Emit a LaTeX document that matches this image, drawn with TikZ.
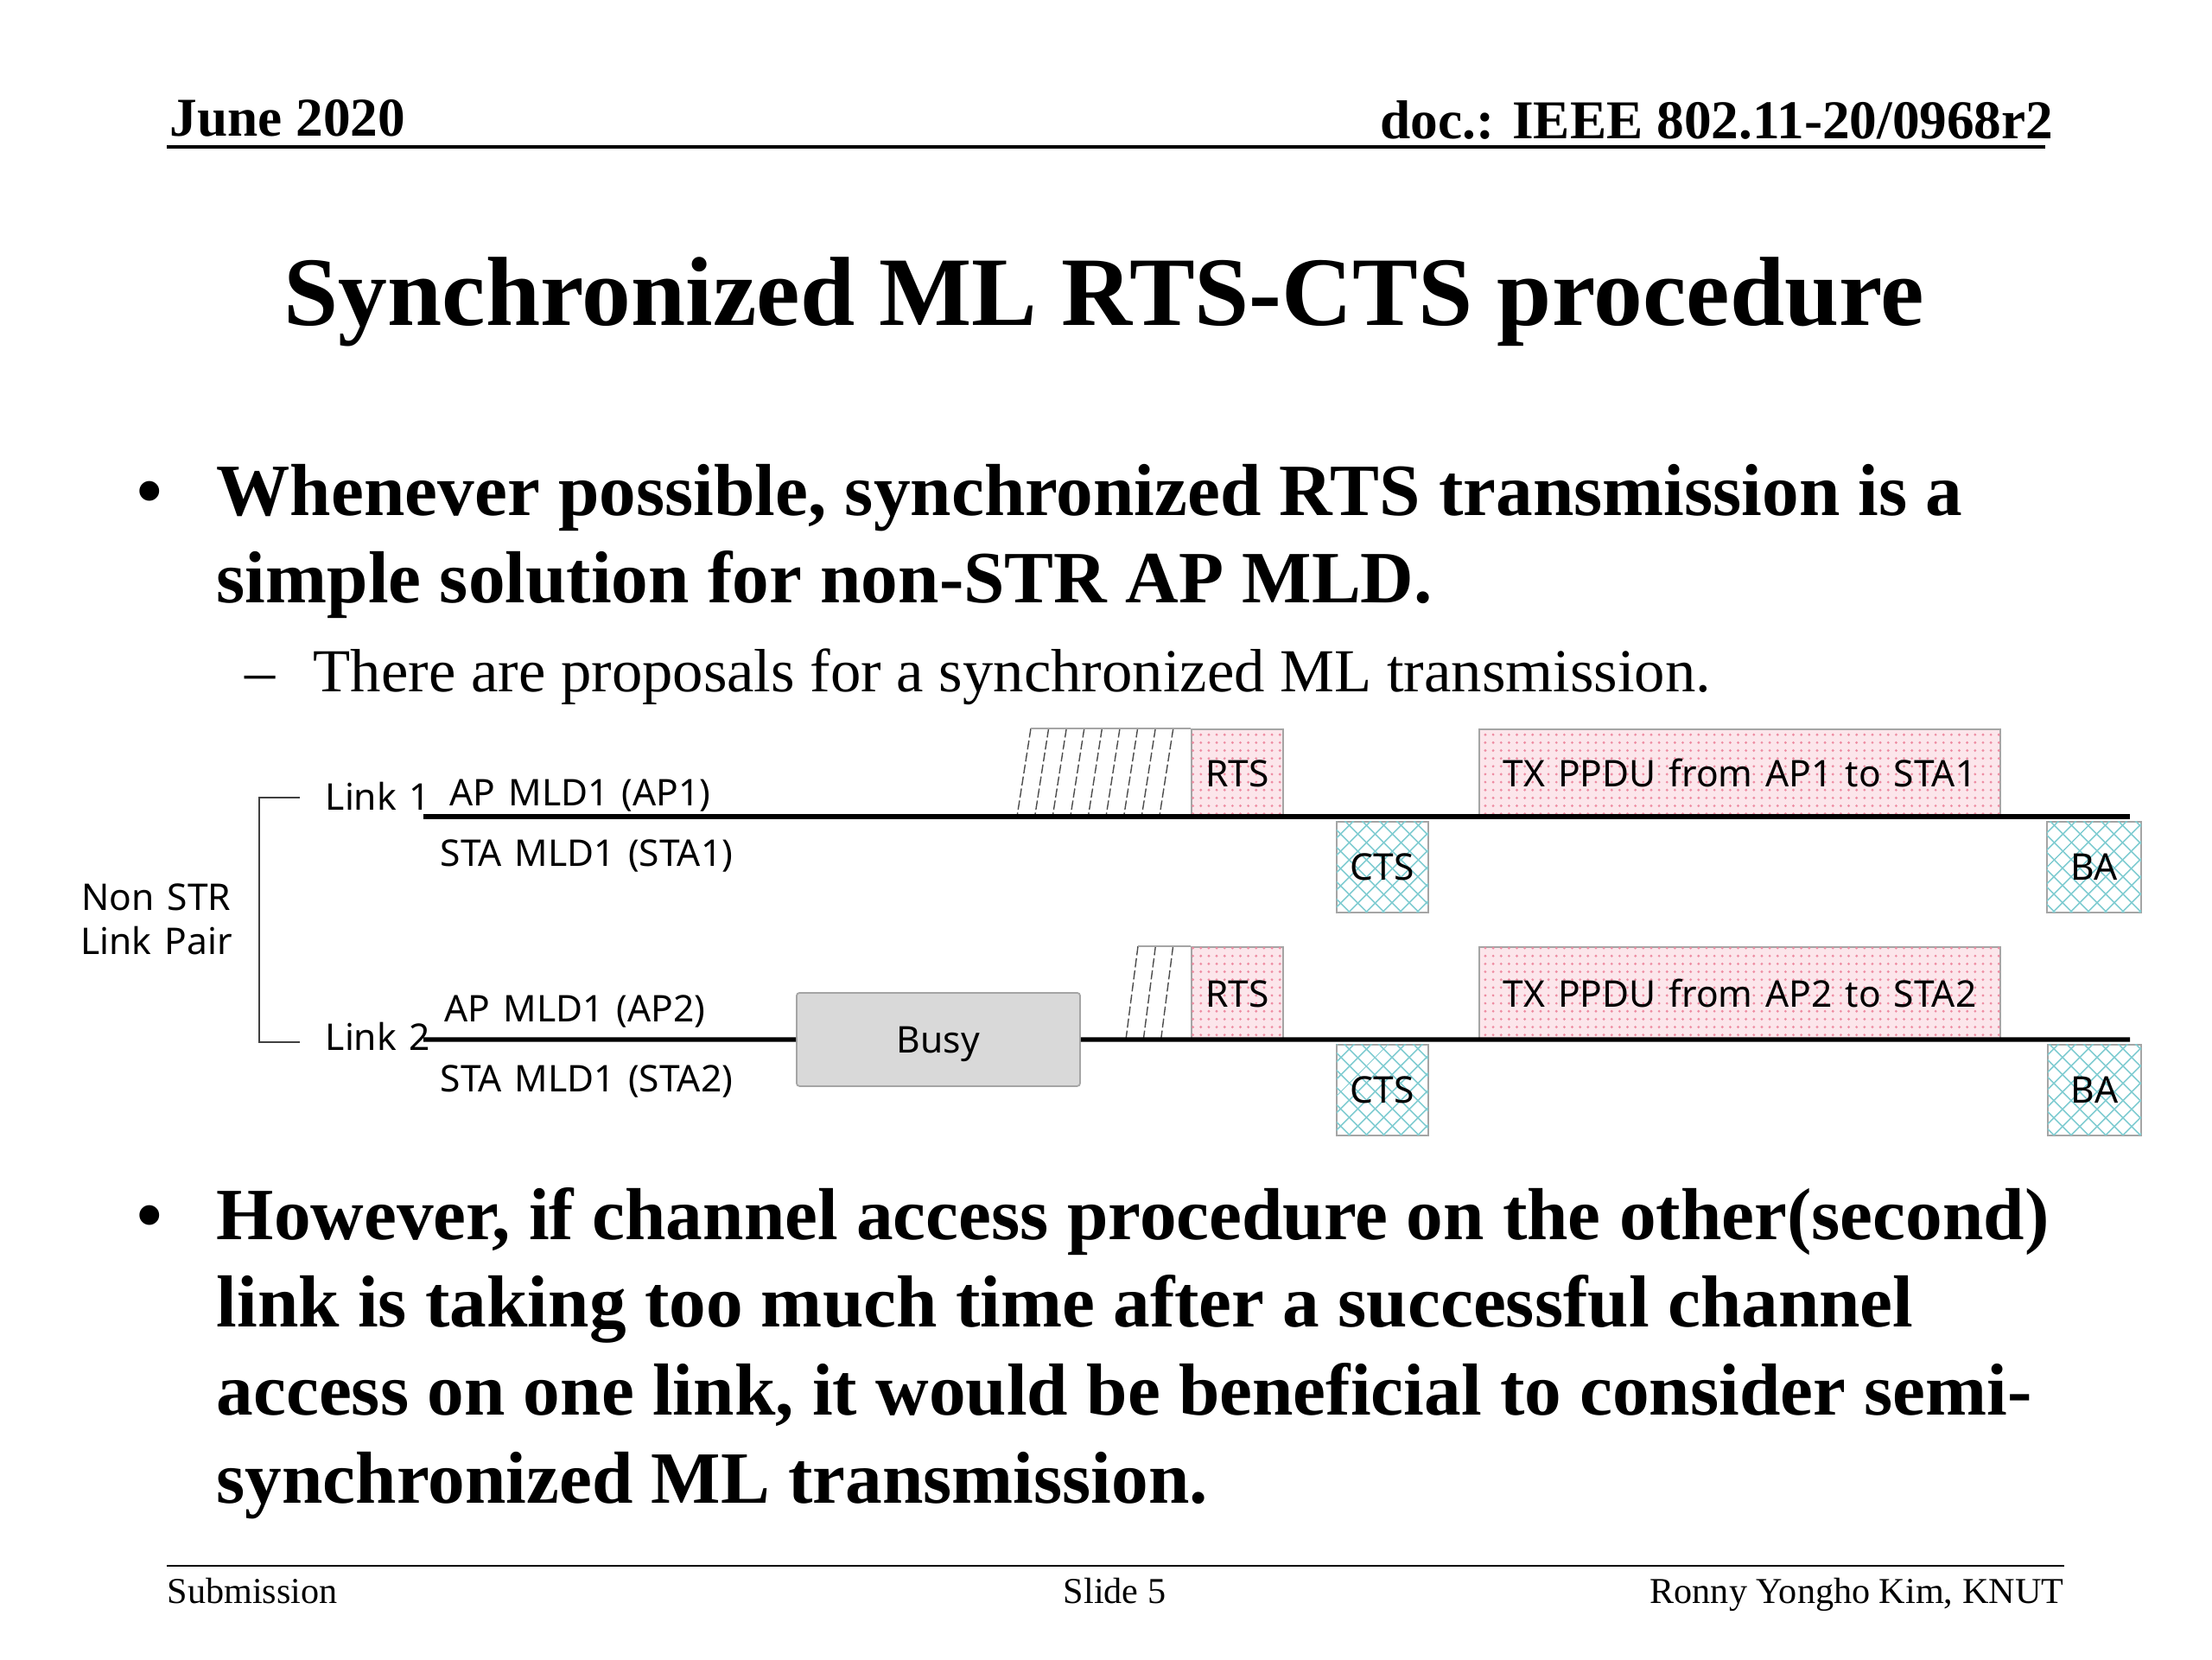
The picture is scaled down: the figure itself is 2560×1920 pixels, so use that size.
\documentclass[tikz,border=0pt]{standalone}
\usepackage{fontspec}
\setmainfont{Liberation Serif}
\newfontfamily\diagfont[WordSpace=1.35]{Noto Sans}
\usetikzlibrary{patterns.meta}
\definecolor{rtspink}{RGB}{252,230,235}
\definecolor{dotpink}{RGB}{238,140,162}
\definecolor{ctscyan}{RGB}{130,205,210}
\definecolor{boxgray}{RGB}{165,165,165}
\definecolor{busygray}{RGB}{217,217,217}
\begin{document}
\begin{tikzpicture}[x=0.01cm,y=-0.01cm,
  lbl/.style={font=\diagfont\fontsize{12.1}{14}\selectfont,inner sep=0pt},
  frame/.style={draw=boxgray,line width=0.5pt},
  slot/.style={frame,lbl,anchor=north west,minimum height=1.02cm},
  pinkbox/.style={slot,fill=rtspink,postaction={pattern={Dots[distance=2.6pt,radius=0.45pt]},pattern color=dotpink}},
  crossbox/.style={slot,fill=white,minimum width=1.06cm,minimum height=1.05cm,
    postaction={pattern={Lines[angle=45,distance=4pt,line width=0.5pt]},pattern color=ctscyan},
    postaction={pattern={Lines[angle=-45,distance=4pt,line width=0.5pt]},pattern color=ctscyan}},
  hatch/.style={draw=black!70,line width=0.4pt,dash pattern=on 3pt off 1pt},
  link/.style={line width=1.5pt},
  txt/.style={inner sep=0pt,anchor=base west}]
\useasboundingbox[fill=white] (0,0) rectangle (2560,1920);

% header and footer
\node (date) [txt,font=\bfseries\fontsize{18}{20}\selectfont] at (196,157) {June 2020};
\node (doc) [txt,anchor=base east,font=\bfseries\fontsize{18}{20}\selectfont] at (2377,160) {doc.: IEEE 802.11-20/0968r2};
\draw[line width=1pt] (193,170) -- (2367,170);
\draw[line width=0.8pt] (193,1812) -- (2389,1812);
\node (sub) [txt,font=\fontsize{12}{14}\selectfont] at (193,1855) {Submission};
\node (slide) [txt,anchor=base,font=\fontsize{12}{14}\selectfont] at (1290,1855) {Slide 5};
\node (auth) [txt,anchor=base east,font=\fontsize{12}{14}\selectfont] at (2389,1855) {Ronny Yongho Kim, KNUT};

\node (title) [txt,anchor=base,font=\bfseries\fontsize{32.3}{36}\selectfont] at (1278,376) {Synchronized ML RTS-CTS procedure};

% bullets
\node (dotA) [txt,font=\bfseries\fontsize{24}{28}\selectfont] at (158,596) {•};
\node (lineA1) [txt,font=\bfseries\fontsize{24.25}{28}\selectfont] at (250,596) {Whenever possible, synchronized RTS transmission is a};
\node (lineA2) [txt,font=\bfseries\fontsize{24.25}{28}\selectfont] at (250,697) {simple solution for non-STR AP MLD.};
\node (dash) [txt,font=\fontsize{20}{24}\selectfont] at (283,800) {–};
\node (subA) [txt,font=\fontsize{20.1}{24}\selectfont] at (362,800) {There are proposals for a synchronized ML transmission.};
\node (dotB) [txt,font=\bfseries\fontsize{24}{28}\selectfont] at (158,1434) {•};
\node (lineB1) [txt,font=\bfseries\fontsize{24.25}{28}\selectfont] at (250,1434) {However, if channel access procedure on the other(second)};
\node (lineB2) [txt,font=\bfseries\fontsize{24.25}{28}\selectfont] at (250,1535) {link is taking too much time after a successful channel};
\node (lineB3) [txt,font=\bfseries\fontsize{24.25}{28}\selectfont] at (250,1637) {access on one link, it would be beneficial to consider semi-};
\node (lineB4) [txt,font=\bfseries\fontsize{24.25}{28}\selectfont] at (250,1739) {synchronized ML transmission.};

% link labels
\node (pair1) [lbl,anchor=base] at (181,1053) {Non STR};
\node (pair2) [lbl,anchor=base] at (181,1104) {Link Pair};
\node (link1) [lbl,anchor=base west] at (376,937) {Link 1};
\node (link2) [lbl,anchor=base west] at (376,1215) {Link 2};
\node (ap1) [lbl,anchor=base west] at (520,932) {AP MLD1 (AP1)};
\node (sta1) [lbl,anchor=base west] at (509,1002) {STA MLD1 (STA1)};
\node (ap2) [lbl,anchor=base west] at (514,1182) {AP MLD1 (AP2)};
\node (sta2) [lbl,anchor=base west] at (509,1263) {STA MLD1 (STA2)};
\draw[black!75,line width=0.7pt] (347,923) -- (300,923) -- (300,1206) -- (347,1206);

% link 1
\coordinate (l1a) at (490,945);
\coordinate (l1b) at (2465,945);
\foreach \k in {0,...,8}
  \draw[hatch] (1193+\k*20.6,843) -- (1177+\k*20.6,945);
\draw[frame] (1193,843) -- (1378,843);
\node (rts1) [pinkbox,minimum width=1.06cm] at (1378,843) {RTS};
\node (ppdu1) [pinkbox,minimum width=6.03cm] at (1711,843) {TX PPDU from AP1 to STA1};
\node (cts1) [crossbox] at (1546,950) {CTS};
\node (ba1) [crossbox,minimum width=1.09cm] at (2368,950) {BA};
\draw[link] (l1a) -- (l1b);

% link 2
\coordinate (l2a) at (490,1203);
\coordinate (l2b) at (2465,1203);
\node (busy) [frame,lbl,fill=busygray,rounded corners=1pt,anchor=north west,minimum width=3.28cm,minimum height=1.08cm,text depth=0pt] at (921,1148) {Busy};
\foreach \k in {0,1,2}
  \draw[hatch] (1317+\k*20.3,1095) -- (1303+\k*20.3,1203);
\draw[frame] (1317,1095) -- (1378,1095);
\node (rts2) [pinkbox,minimum width=1.06cm,minimum height=1.08cm] at (1378,1095) {RTS};
\node (ppdu2) [pinkbox,minimum width=6.03cm,minimum height=1.08cm] at (1711,1095) {TX PPDU from AP2 to STA2};
\node (cts2) [crossbox] at (1546,1208) {CTS};
\node (ba2) [crossbox,minimum width=1.08cm] at (2369,1208) {BA};
\draw[link] (l2a) -- (busy.west);
\draw[link] (busy.east) -- (l2b);
\end{tikzpicture}
\end{document}
